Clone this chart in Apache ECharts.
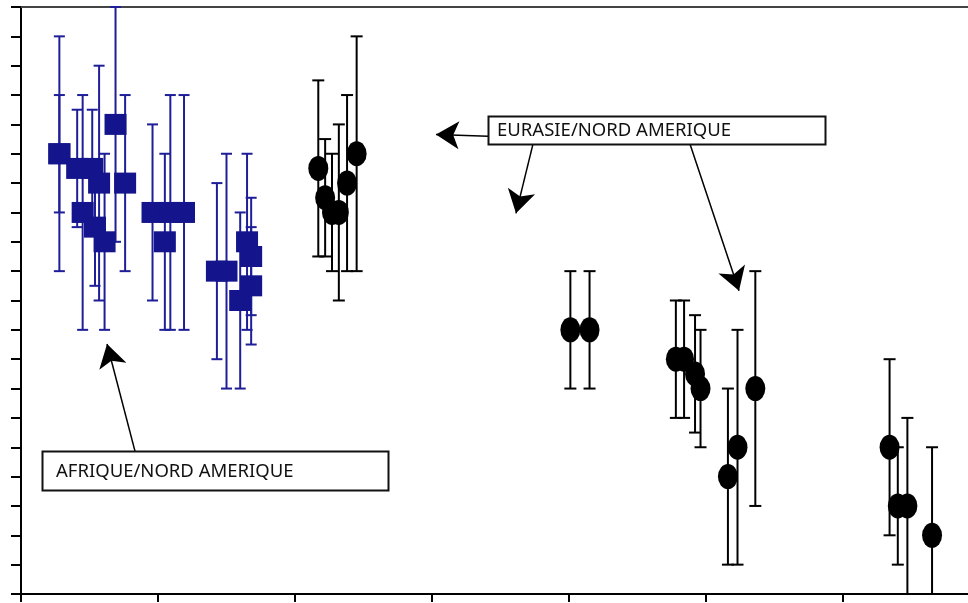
<!DOCTYPE html>
<html>
<head>
<meta charset="utf-8">
<script src="https://cdn.jsdelivr.net/npm/echarts@6/dist/echarts.min.js"></script>
<style>
html,body{margin:0;padding:0;background:#fff;}
#chart{width:968px;height:603px;}
</style>
</head>
<body>
<div id="chart"></div>
<script>
// Afrique / Nord Amerique (blue squares)
const blueX   = [0.28, 0.28, 0.41, 0.45, 0.52, 0.54, 0.57, 0.61, 0.69, 0.76, 0.96, 1.05, 1.09, 1.19, 1.43, 1.50, 1.60, 1.65, 1.68, 1.68];
const blueY   = [15, 15, 14.5, 13, 14.5, 12.5, 14, 12, 16, 14, 13, 12, 13, 13, 11, 11, 10, 12, 11.5, 10.5];
const blueErr = [2, 4, 2, 4, 2, 2, 4, 3, 4, 3, 3, 3, 4, 4, 3, 4, 3, 3, 2, 2];

// Eurasie / Nord Amerique (black circles)
const blackX   = [2.17, 2.22, 2.27, 2.32, 2.38, 2.45, 4.01, 4.15, 4.78, 4.84, 4.92, 4.96, 5.16, 5.23, 5.36, 6.34, 6.40, 6.47, 6.65];
const blackY   = [14.5, 13.5, 13, 13, 14, 15, 9, 9, 8, 8, 7.5, 7, 4, 5, 7, 5, 3, 3, 2];
const blackErr = [3, 2, 2, 3, 3, 4, 2, 2, 2, 2, 2, 2, 3, 4, 4, 3, 2, 3, 3];

// Annotation labels (data coordinates)
const labelTexts   = ['AFRIQUE/NORD AMERIQUE', 'EURASIE/NORD AMERIQUE'];
const labelCenters = [[1.416, 4.21], [4.639, 15.81]];
const arrowStarts  = [[0.832, 4.87], [3.409, 15.60], [3.737, 15.33], [4.883, 15.33]];
const arrowEnds    = [[0.628, 8.52], [3.029, 15.66], [3.613, 12.97], [5.241, 10.33]];

// Axis ranges / ticks
const xMin = 0, xMax = 7, xStep = 1;
const xTicks = [0, 1, 2, 3, 4, 5, 6];
const yMin = 0, yMax = 20, yStep = 1;

const zip3 = (a, b, c) => a.map((v, i) => [v, b[i], c[i]]);
const blueData = zip3(blueX, blueY, blueErr);
const blackData = zip3(blackX, blackY, blackErr);

function errRender(color, capW) {
  return function (params, api) {
    const x = api.value(0), y = api.value(1), e = api.value(2);
    const cs = params.coordSys;
    const top = api.coord([x, y + e]);
    const bot = api.coord([x, y - e]);
    const yTop = Math.max(top[1], cs.y);
    const yBot = Math.min(bot[1], cs.y + cs.height);
    const st = { stroke: color, lineWidth: 2, fill: null };
    const children = [
      { type: 'line', shape: { x1: top[0], y1: yTop, x2: top[0], y2: yBot }, style: st }
    ];
    if (top[1] >= cs.y - 0.5) children.push({ type: 'line', shape: { x1: top[0] - capW / 2, y1: top[1], x2: top[0] + capW / 2, y2: top[1] }, style: st });
    if (bot[1] <= cs.y + cs.height + 0.5) children.push({ type: 'line', shape: { x1: bot[0] - capW / 2, y1: bot[1], x2: bot[0] + capW / 2, y2: bot[1] }, style: st });
    return { type: 'group', children };
  };
}

const chart = echarts.init(document.getElementById('chart'), null, { renderer: 'canvas' });

const option = {
  animation: false,
  backgroundColor: '#ffffff',
  grid: { left: 21, top: 7, width: 959, height: 587, show: false, outerBoundsMode: 'none', containLabel: false },
  xAxis: [{
    type: 'value', min: xMin, max: xMax, interval: xStep, position: 'bottom',
    axisLine: { show: true, onZero: false, lineStyle: { color: '#000', width: 2 } },
    axisTick: { show: true, inside: false, length: 8, customValues: xTicks, lineStyle: { color: '#000', width: 2 } },
    axisLabel: { show: false }, splitLine: { show: false }
  }, {
    type: 'value', min: xMin, max: xMax, interval: xStep, position: 'top',
    axisLine: { show: true, onZero: false, lineStyle: { color: '#444', width: 2 } },
    axisTick: { show: false }, axisLabel: { show: false }, splitLine: { show: false }
  }],
  yAxis: {
    type: 'value', min: yMin, max: yMax, interval: yStep,
    axisLine: { show: true, onZero: false, lineStyle: { color: '#000', width: 2 } },
    axisTick: { show: true, inside: false, length: 10, lineStyle: { color: '#000', width: 2 } },
    axisLabel: { show: false }, splitLine: { show: false }
  },
  series: [
    {
      type: 'custom', name: 'blueErr', data: blueData, renderItem: errRender('#1e1e98', 11),
      encode: { x: 0, y: 1 }, z: 2, silent: true
    },
    {
      type: 'custom', name: 'blackErr', data: blackData, renderItem: errRender('#000', 12),
      encode: { x: 0, y: 1 }, z: 2, silent: true
    },
    {
      type: 'scatter', name: 'AFRIQUE/NORD AMERIQUE', data: blueData.map(d => [d[0], d[1]]),
      symbol: 'rect', symbolSize: [22, 21], itemStyle: { color: '#14148c', opacity: 1 }, z: 3, silent: true
    },
    {
      type: 'scatter', name: 'EURASIE/NORD AMERIQUE', data: blackData.map(d => [d[0], d[1]]),
      symbol: 'circle', symbolSize: [20, 25], itemStyle: { color: '#000', opacity: 1 }, z: 3, silent: true
    },
    {
      type: 'scatter', name: 'annotations', data: [], z: 4, silent: true,
      markLine: {
        silent: true, animation: false,
        label: { show: false },
        lineStyle: { color: '#000', width: 1.5, type: 'solid' },
        emphasis: { disabled: true },
        data: arrowStarts.map((s, i) => [
          { coord: s, symbol: 'none' },
          { coord: arrowEnds[i], symbol: 'arrow', symbolSize: [21, 23] }
        ])
      }
    }
  ]
};
chart.setOption(option);

// annotation boxes, positioned from data coordinates
const boxSizes = [[346, 39], [337, 28]];
const boxPads = [14, 9];
const graphics = [];
labelCenters.forEach((c, i) => {
  const p = chart.convertToPixel({ gridIndex: 0 }, c);
  const w = boxSizes[i][0], h = boxSizes[i][1];
  graphics.push({
    type: 'rect', z: 10, silent: true,
    shape: { x: Math.round(p[0] - w / 2) + 0.5, y: Math.round(p[1] - h / 2) + 0.5, width: w, height: h },
    style: { fill: '#fff', stroke: '#111', lineWidth: 2 }
  });
  graphics.push({
    type: 'text', z: 11, silent: true,
    x: p[0] - w / 2 + boxPads[i], y: p[1] + 1,
    style: { text: labelTexts[i], fill: '#111', fontSize: 18.5, fontFamily: 'Noto Sans', verticalAlign: 'middle', align: 'left' }
  });
});
chart.setOption({ graphic: graphics });
</script>
</body>
</html>
